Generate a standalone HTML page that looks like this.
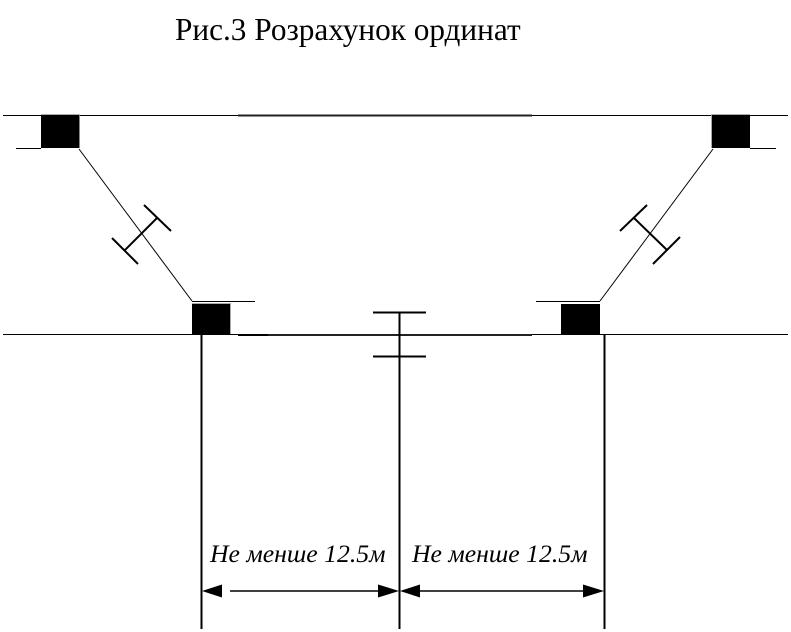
<!DOCTYPE html>
<html><head><meta charset="utf-8"><style>
html,body{margin:0;padding:0;background:#fff}
svg{display:block}
text{font-family:"Liberation Serif",serif;fill:#000}
</style></head><body>
<svg width="791" height="632" viewBox="0 0 791 632" xmlns="http://www.w3.org/2000/svg">
<rect width="791" height="632" fill="#fff"/>
<text x="175" y="40" font-size="31.25">Рис.3 Розрахунок ординат</text>
<g stroke="#000" fill="none">
<line x1="3" y1="115.5" x2="788" y2="115.5" stroke-width="1"/>
<line x1="238" y1="115.5" x2="532" y2="115.5" stroke-width="2" stroke="#222"/>
<line x1="3" y1="334.5" x2="788" y2="334.5" stroke-width="1"/>
<line x1="238" y1="335" x2="532" y2="335" stroke-width="2" stroke="#222"/>
<line x1="238" y1="335" x2="268" y2="335" stroke-width="2"/>
<line x1="16" y1="148.5" x2="41" y2="148.5" stroke-width="1"/>
<line x1="750" y1="148.5" x2="776" y2="148.5" stroke-width="1"/>
<line x1="192" y1="301.5" x2="255" y2="301.5" stroke-width="1"/>
<line x1="536" y1="301.5" x2="600" y2="301.5" stroke-width="1"/>
<line x1="79" y1="149" x2="192" y2="301" stroke-width="1"/>
<line x1="713" y1="149" x2="600" y2="301" stroke-width="1"/>
<g stroke-width="2">
<line x1="144" y1="205" x2="171" y2="231"/>
<line x1="112" y1="238" x2="138" y2="264"/>
<line x1="157" y1="218" x2="125" y2="250"/>
<line x1="647" y1="205" x2="620" y2="231"/>
<line x1="680" y1="237" x2="653" y2="264"/>
<line x1="634" y1="218" x2="667" y2="250"/>
<line x1="373" y1="312.5" x2="426" y2="312.5"/>
<line x1="373" y1="356.5" x2="426" y2="356.5"/>
<line x1="399.5" y1="312" x2="399.5" y2="629"/>
<line x1="201.5" y1="335" x2="201.5" y2="629"/>
<line x1="604.5" y1="334" x2="604.5" y2="629"/>
</g>
<g stroke-width="1.5">
<line x1="230" y1="591" x2="378" y2="591"/>
<line x1="420" y1="591" x2="583" y2="591"/>
</g>
</g>
<rect x="41" y="115" width="38" height="33" fill="#000"/>
<rect x="79" y="115" width="1" height="33" fill="#888"/>
<rect x="41" y="114" width="39" height="1" fill="#aaa"/>
<rect x="712" y="115" width="38" height="33" fill="#000"/>
<rect x="711" y="115" width="1" height="33" fill="#aaa"/>
<rect x="711" y="114" width="39" height="1" fill="#aaa"/>
<rect x="192" y="304" width="38" height="30" fill="#000"/>
<rect x="230" y="304" width="1" height="30" fill="#aaa"/>
<rect x="192" y="303" width="39" height="1" fill="#aaa"/>
<rect x="561" y="304" width="39" height="31" fill="#000"/>
<polygon points="202,591 222,584.5 222,597.5" fill="#000"/>
<polygon points="399,591 378,584.5 378,597.5" fill="#000"/>
<polygon points="400,591 420,584.5 420,597.5" fill="#000"/>
<polygon points="604,591 583,584.5 583,597.5" fill="#000"/>
<text x="210" y="562" font-size="25.7" font-style="italic">Не менше 12.5м</text>
<text x="412" y="562" font-size="25.7" font-style="italic">Не менше 12.5м</text>
</svg>
</body></html>
